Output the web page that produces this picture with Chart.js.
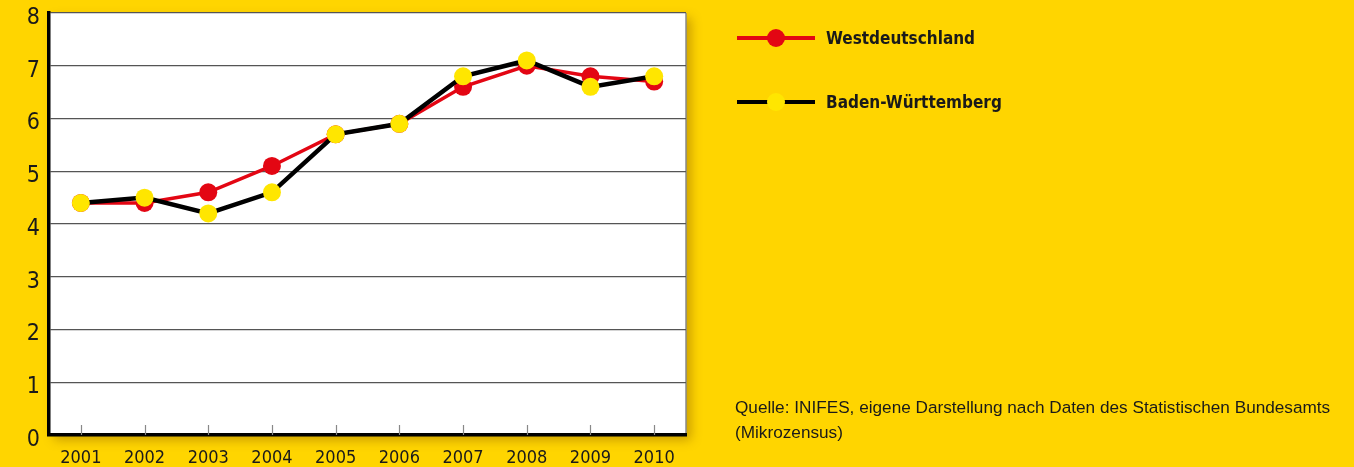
<!DOCTYPE html>
<html>
<head>
<meta charset="utf-8">
<script src="https://cdn.jsdelivr.net/npm/chart.js@4/dist/chart.umd.min.js"></script>
<style>
  html, body { margin: 0; padding: 0; background: #FFD500; }
  #wrap { position: relative; width: 1354px; height: 467px; }
  canvas { position: absolute; left: 0; top: 0; }
  #source { position: absolute; left: 735px; top: 395px; font-family: "Liberation Sans", Arial, sans-serif; font-size: 17.2px; line-height: 25px; color: #1a1a1a; white-space: nowrap; }
</style>
</head>
<body>
<div id="wrap">
  <canvas id="c" width="1354" height="467"></canvas>
  <div id="source">Quelle: INIFES, eigene Darstellung nach Daten des Statistischen Bundesamts<br>(Mikrozensus)</div>
</div>
<script>
const years = ['2001','2002','2003','2004','2005','2006','2007','2008','2009','2010'];
const westdeutschland = [4.4, 4.4, 4.6, 5.1, 5.7, 5.9, 6.6, 7.0, 6.8, 6.7];
const badenWuerttemberg = [4.4, 4.5, 4.2, 4.6, 5.7, 5.9, 6.8, 7.1, 6.6, 6.8];
const yTicks = [0, 1, 2, 3, 4, 5, 6, 7, 8];

const FONT = '"DejaVu Sans Condensed", "Liberation Sans", sans-serif';

const plotBg = {
  id: 'plotBg',
  beforeDraw(chart) {
    const { ctx, chartArea: a } = chart;
    ctx.save();
    ctx.shadowColor = 'rgba(140, 95, 0, 0.45)';
    ctx.shadowBlur = 10;
    ctx.shadowOffsetX = 5;
    ctx.shadowOffsetY = 5;
    ctx.fillStyle = '#ffffff';
    ctx.fillRect(a.left, a.top, a.right - a.left, a.bottom - a.top);
    ctx.restore();
    ctx.save();
    ctx.strokeStyle = '#8a8a8a';
    ctx.lineWidth = 1.5;
    ctx.beginPath();
    ctx.moveTo(a.right, a.top);
    ctx.lineTo(a.right, a.bottom);
    ctx.stroke();
    ctx.restore();
  },
  afterDatasetsDraw(chart) {
    const { ctx, chartArea: a, scales: { x } } = chart;
    ctx.save();
    ctx.strokeStyle = '#888';
    ctx.lineWidth = 1.2;
    years.forEach((_, i) => {
      const px = Math.round(x.getPixelForValue(i)) + 0.5;
      ctx.beginPath();
      ctx.moveTo(px, a.bottom);
      ctx.lineTo(px, a.bottom - 10);
      ctx.stroke();
    });
    ctx.restore();
  }
};

const customLegend = {
  id: 'customLegend',
  afterDraw(chart) {
    const { ctx } = chart;
    const items = [chart.data.datasets[0], chart.data.datasets[1]];
    items.forEach((ds, i) => {
      const y = 38 + i * 64;
      ctx.save();
      ctx.strokeStyle = ds.borderColor;
      ctx.lineWidth = 4;
      ctx.beginPath();
      ctx.moveTo(737, y);
      ctx.lineTo(815, y);
      ctx.stroke();
      ctx.fillStyle = ds.pointBackgroundColor;
      ctx.beginPath();
      ctx.arc(776, y, 9, 0, Math.PI * 2);
      ctx.fill();
      ctx.fillStyle = '#1a1a1a';
      ctx.font = 'bold 17px ' + FONT;
      ctx.textBaseline = 'middle';
      ctx.textAlign = 'left';
      ctx.fillText(ds.label, 826, y + 2);
      ctx.restore();
    });
  }
};

new Chart(document.getElementById('c'), {
  type: 'line',
  data: {
    labels: years,
    datasets: [
      {
        label: 'Westdeutschland',
        data: westdeutschland,
        borderColor: '#E30613',
        backgroundColor: '#E30613',
        pointBackgroundColor: '#E30613',
        pointBorderWidth: 0,
        pointRadius: 9,
        borderWidth: 3.5,
        tension: 0,
        order: 2
      },
      {
        label: 'Baden-Württemberg',
        data: badenWuerttemberg,
        borderColor: '#000000',
        backgroundColor: '#FFE600',
        pointBackgroundColor: '#FFE600',
        pointBorderWidth: 0,
        pointRadius: 9,
        borderWidth: 4.5,
        tension: 0,
        order: 1
      }
    ]
  },
  options: {
    responsive: false,
    animation: false,
    events: [],
    layout: { padding: { left: 0, right: 668, top: 13, bottom: 0 } },
    plugins: { legend: { display: false }, tooltip: { enabled: false } },
    scales: {
      x: {
        offset: true,
        grid: { display: false, drawTicks: false },
        border: { display: true, color: '#000', width: 3.5 },
        ticks: { color: '#1a1a1a', font: { family: FONT, size: 18 }, padding: 13, maxRotation: 0 },
        afterFit(s) { s.height = 32; s.paddingLeft = 0; s.paddingRight = 0; }
      },
      y: {
        min: 0,
        max: 8,
        afterBuildTicks(s) { s.ticks = yTicks.map(v => ({ value: v })); },
        grid: { color: '#555', lineWidth: 1.3, drawTicks: false },
        border: { display: true, color: '#000', width: 3.5 },
        ticks: { color: '#1a1a1a', font: { family: FONT, size: 23 }, padding: 9, labelOffset: 5 },
        afterFit(s) { s.width = 49; s.paddingTop = 0; s.paddingBottom = 0; }
      }
    }
  },
  plugins: [plotBg, customLegend]
});
</script>
</body>
</html>
